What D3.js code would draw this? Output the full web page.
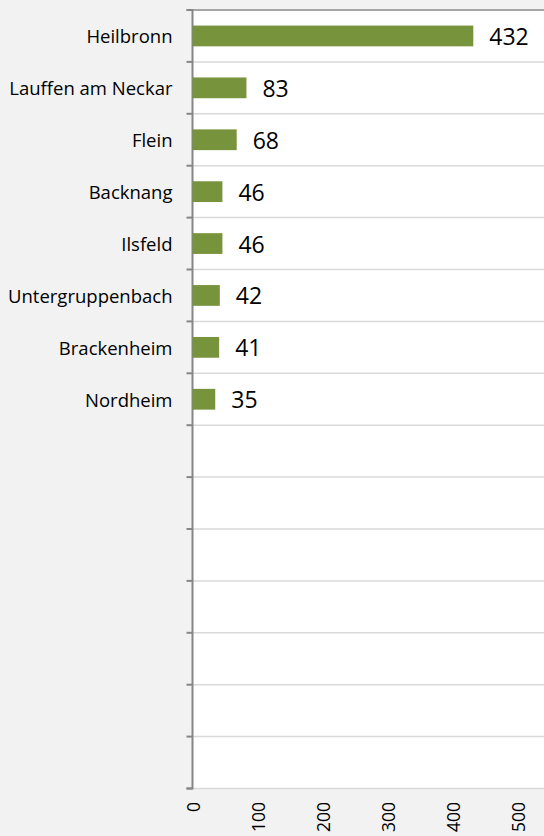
<!DOCTYPE html>
<html>
<head>
<meta charset="utf-8">
<script src="https://cdn.jsdelivr.net/npm/d3@7"></script>
<style>
    html, body { margin: 0; padding: 0; background: #f2f2f2; }
    #chart-area { width: 544px; height: 836px; overflow: hidden; }
    text { font-family: "Open Sans", sans-serif; fill: #000; }
</style>
</head>
<body>
<div id="chart-area"></div>
<script>

// places (the last rows of the chart are empty)
let places = ["Heilbronn", "Lauffen am Neckar", "Flein", "Backnang", "Ilsfeld",
    "Untergruppenbach", "Brackenheim", "Nordheim", "", "", "", "", "", "", ""];
let counts = [432, 83, 68, 46, 46, 42, 41, 35];
let tickValues = [0, 100, 200, 300, 400, 500];

class BarVis {

    constructor(parentElement, places, counts){
        this.parentElement = parentElement;
        this.places = places;
        this.counts = counts;

        this.initVis()
    }

    initVis(){
        let vis = this;

        vis.width = 544
        vis.height = 836
        vis.plot = {left: 192.5, top: 10, bottom: 788.5, right: 560}

        vis.svg = d3.select("#" + vis.parentElement).append("svg")
            .attr("width", vis.width)
            .attr("height", vis.height)

        // keys so empty rows still get their own band
        let rows = vis.places.map((d, i) => ({name: d, key: i, value: vis.counts[i]}))

        vis.y = d3.scaleBand()
            .domain(rows.map(d => d.key))
            .range([vis.plot.top, vis.plot.bottom])

        vis.x = d3.scaleLinear()
            .domain([0, 500])
            .range([vis.plot.left, vis.plot.left + 325])

        // white plot area
        vis.svg.append('rect')
            .attr('x', vis.plot.left)
            .attr('y', vis.plot.top)
            .attr('width', vis.plot.right - vis.plot.left)
            .attr('height', vis.plot.bottom - vis.plot.top)
            .attr('fill', '#ffffff')

        // gridlines between the rows
        let edges = rows.map(d => vis.y(d.key) + vis.y.step()).slice(0, -1)
        vis.svg.selectAll('.grid-line')
            .data(edges)
            .enter()
            .append('line')
            .attr('class', 'grid-line')
            .attr('x1', vis.plot.left)
            .attr('x2', vis.plot.right)
            .attr('y1', d => d)
            .attr('y2', d => d)
            .attr('stroke', '#d9d9d9')
            .attr('stroke-width', 1.5)

        vis.svg.append('line')
            .attr('x1', vis.plot.left)
            .attr('x2', vis.plot.right)
            .attr('y1', vis.plot.bottom)
            .attr('y2', vis.plot.bottom)
            .attr('stroke', '#d9d9d9')
            .attr('stroke-width', 1.5)

        // top border
        vis.svg.append('line')
            .attr('x1', vis.plot.left - 6)
            .attr('x2', vis.plot.right)
            .attr('y1', vis.plot.top)
            .attr('y2', vis.plot.top)
            .attr('stroke', '#a6a6a6')
            .attr('stroke-width', 2)

        // category axis with ticks on the band edges
        let yAxis = d3.axisLeft(vis.y)
            .tickSize(6)
            .tickFormat('')
        let yAxisG = vis.svg.append('g')
            .attr('transform', `translate(${vis.plot.left}, 0)`)
            .call(yAxis)
        yAxisG.select('.domain')
            .attr('d', `M-6,${vis.plot.top}H0V${vis.plot.bottom}H-6`)
            .attr('stroke', '#868686')
            .attr('stroke-width', 2)
        yAxisG.selectAll('.tick')
            .attr('transform', d => `translate(0, ${vis.y(d) + vis.y.step()})`)
        yAxisG.selectAll('.tick line')
            .attr('stroke', '#868686')
            .attr('stroke-width', 2)

        // category labels
        vis.svg.selectAll('.place-label')
            .data(rows)
            .enter()
            .append('text')
            .attr('class', 'place-label')
            .attr('x', 172.5)
            .attr('y', d => vis.y(d.key) + vis.y.step() / 2)
            .attr('text-anchor', 'end')
            .attr('dominant-baseline', 'central')
            .style('font-size', '18.5px')
            .text(d => d.name)

        // bars
        let barH = vis.y.step() * 0.4
        let filled = rows.filter(d => d.value !== undefined)
        vis.svg.selectAll('.bar')
            .data(filled)
            .enter()
            .append('rect')
            .attr('class', 'bar')
            .attr('x', vis.x(0))
            .attr('y', d => vis.y(d.key) + (vis.y.step() - barH) / 2)
            .attr('width', d => vis.x(d.value) - vis.x(0))
            .attr('height', barH)
            .attr('fill', '#77933c')

        vis.svg.selectAll('.value-label')
            .data(filled)
            .enter()
            .append('text')
            .attr('class', 'value-label')
            .attr('x', d => vis.x(d.value) + 16)
            .attr('y', d => vis.y(d.key) + vis.y.step() / 2)
            .attr('dominant-baseline', 'central')
            .style('font-size', '23px')
            .text(d => d.value)

        // value axis labels, rotated
        vis.svg.selectAll('.tick-label')
            .data(tickValues)
            .enter()
            .append('text')
            .attr('class', 'tick-label')
            .attr('transform', d => `translate(${vis.x(d)}, 802) rotate(-90)`)
            .attr('text-anchor', 'end')
            .attr('dominant-baseline', 'central')
            .style('font-size', '17.5px')
            .text(d => d)
    }
}

new BarVis("chart-area", places, counts);

</script>
</body>
</html>
